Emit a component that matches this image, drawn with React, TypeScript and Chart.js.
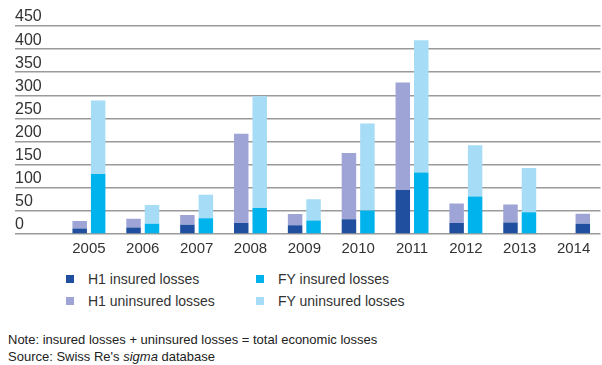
import React, { useEffect, useRef } from "react";
import { Chart, registerables } from "chart.js";

Chart.register(...registerables);

const years = ["2005", "2006", "2007", "2008", "2009", "2010", "2011", "2012", "2013", "2014"];
const h1Insured = [12, 14, 20, 24, 19, 32, 95, 24, 25, 22];
const h1Uninsured = [16, 19, 21, 193, 24, 143, 233, 42, 39, 22];
const fyInsured = [130, 22, 34, 56, 29, 51, 133, 81, 47, null];
const fyUninsured = [159, 41, 51, 242, 46, 188, 286, 111, 96, null];
const yTicks = [0, 50, 100, 150, 200, 250, 300, 350, 400, 450];

const seriesLabels = ["H1 insured losses", "FY insured losses", "H1 uninsured losses", "FY uninsured losses"];
const seriesColors = ["#1f4f9e", "#00b3ec", "#9ea4d5", "#a6dcf5"];

const FONT = "'Liberation Sans', Arial, sans-serif";

export default function App() {
  const ref = useRef<HTMLCanvasElement | null>(null);

  useEffect(() => {
    if (!ref.current) return;
    const last = years.length - 1;
    // In 2014 only H1 figures exist; they are drawn in the second slot of the group
    const h1InsuredMain = h1Insured.map((v, i) => (i === last ? null : v));
    const h1UninsuredMain = h1Uninsured.map((v, i) => (i === last ? null : v));
    const h1InsuredLatest = h1Insured.map((v, i) => (i === last ? v : null));
    const h1UninsuredLatest = h1Uninsured.map((v, i) => (i === last ? v : null));

    const common = { categoryPercentage: 0.686, barPercentage: 0.784, borderWidth: 0 };
    const chart = new Chart(ref.current, {
      type: "bar",
      data: {
        labels: years,
        datasets: [
          { label: seriesLabels[0], data: h1InsuredMain, stack: "H1", backgroundColor: seriesColors[0], ...common },
          { label: seriesLabels[1], data: fyInsured, stack: "FY", backgroundColor: seriesColors[1], ...common },
          { label: seriesLabels[2], data: h1UninsuredMain, stack: "H1", backgroundColor: seriesColors[2], ...common },
          { label: seriesLabels[3], data: fyUninsured, stack: "FY", backgroundColor: seriesColors[3], ...common },
          { label: seriesLabels[0] + " (2014)", data: h1InsuredLatest, stack: "FY", backgroundColor: seriesColors[0], ...common },
          { label: seriesLabels[2] + " (2014)", data: h1UninsuredLatest, stack: "FY", backgroundColor: seriesColors[2], ...common },
        ],
      },
      options: {
        animation: false,
        responsive: true,
        maintainAspectRatio: false,
        layout: { padding: { top: 26, left: 15, right: 1.5, bottom: 0 } },
        plugins: { legend: { display: false }, tooltip: { enabled: false } },
        scales: {
          x: {
            stacked: true,
            grid: { display: false, drawTicks: false },
            border: { display: false },
            ticks: { padding: 6, color: "#333", font: { family: FONT, size: 15 } },
          },
          y: {
            stacked: true,
            min: 0,
            max: 450,
            afterBuildTicks: (s: any) => {
              s.ticks = yTicks.map((v) => ({ value: v }));
            },
            afterFit: (s: any) => {
              s.width = 47;
            },
            ticks: {
              stepSize: 50,
              crossAlign: "far",
              padding: 0,
              labelOffset: -9,
              color: "#333",
              font: { family: FONT, size: 16 },
            },
            grid: { color: "#9a9a9a", lineWidth: 1.5, tickLength: 47, drawTicks: true },
            border: { display: false },
          },
        },
      },
    });
    return () => chart.destroy();
  }, []);

  const legendPos = [
    { left: 66, top: 271 },
    { left: 256, top: 271 },
    { left: 66, top: 293 },
    { left: 256, top: 293 },
  ];

  return (
    <div style={{ position: "fixed", left: 0, top: 0, width: 602, height: 365, background: "#fff", fontFamily: FONT }}>
      <div style={{ position: "absolute", left: 0, top: 0, width: 602, height: 264 }}>
        <canvas ref={ref} />
      </div>
      {seriesLabels.map((label, i) => (
        <div
          key={label}
          style={{
            position: "absolute",
            left: legendPos[i].left,
            top: legendPos[i].top,
            display: "flex",
            alignItems: "center",
            height: 16,
            fontSize: 14,
            color: "#333",
            whiteSpace: "nowrap",
          }}
        >
          <span style={{ display: "inline-block", width: 8, height: 8, background: seriesColors[i], marginRight: 14 }} />
          <span>{label}</span>
        </div>
      ))}
      <div style={{ position: "absolute", left: 8, top: 331, fontSize: 13, lineHeight: "17px", color: "#222", whiteSpace: "nowrap" }}>
        <div>Note: insured losses + uninsured losses = total economic losses</div>
        <div>
          Source: Swiss Re's <i>sigma</i> database
        </div>
      </div>
    </div>
  );
}
